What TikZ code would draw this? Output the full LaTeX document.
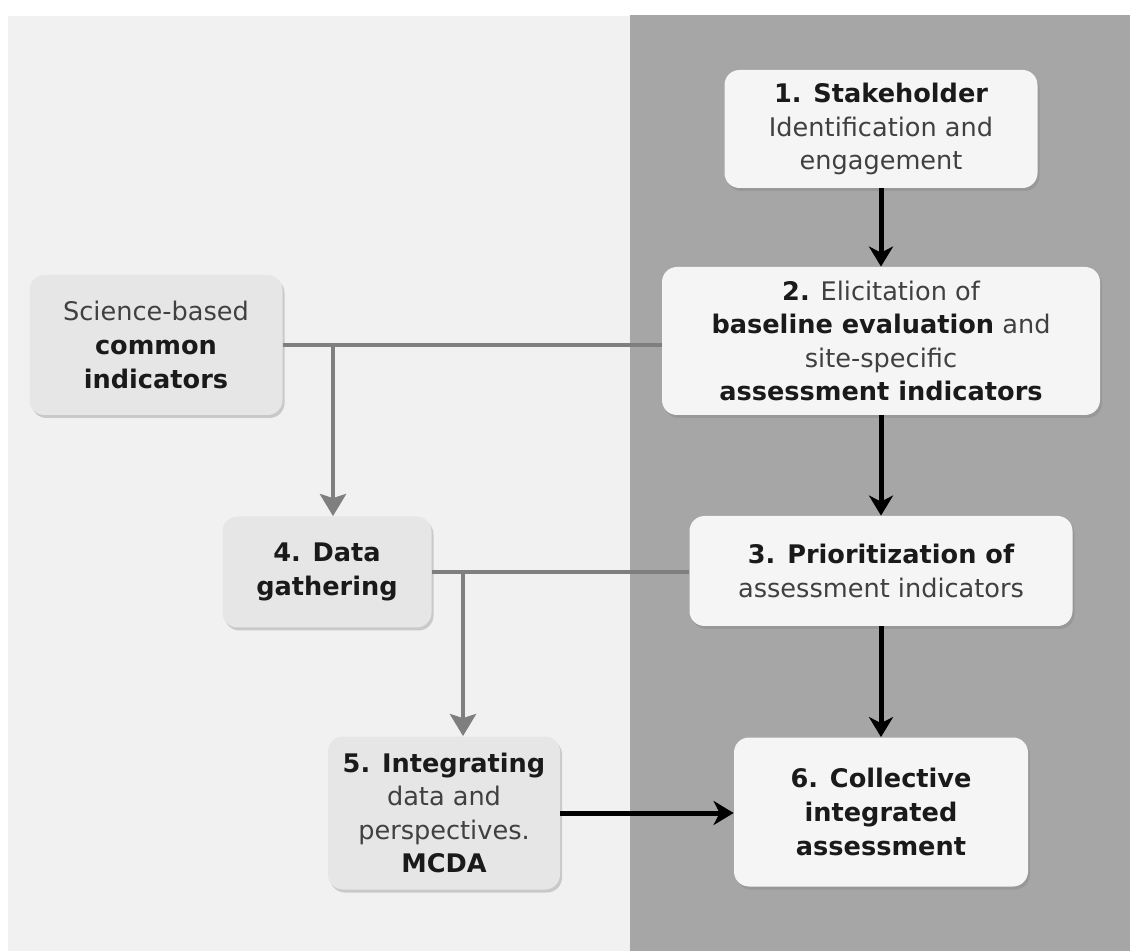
\documentclass[tikz,border=0pt]{standalone}
\usepackage{fontspec}
\setmainfont{DejaVu Sans}
\usetikzlibrary{shadows,arrows.meta}
\definecolor{lightbg}{HTML}{F1F1F1}
\definecolor{darkbg}{HTML}{A6A6A6}
\definecolor{boxw}{HTML}{F5F5F5}
\definecolor{boxg}{HTML}{E6E6E6}
\definecolor{lineg}{HTML}{7F7F7F}
\definecolor{txt}{HTML}{404040}
\definecolor{bold}{HTML}{1A1A1A}
\newcommand\bb[1]{{\bfseries\color{bold}#1}}
\tikzset{
  stepbox/.style={rounded corners=7.5pt, align=center, inner sep=2pt,
    text=txt, font=\fontsize{12.8}{16.8}\selectfont,
    drop shadow={opacity=0.35, shadow xshift=1pt, shadow yshift=-1.5pt}},
  whitebox/.style={stepbox, fill=boxw},
  greybox/.style={stepbox, fill=boxg},
  blk/.style={line width=2.5pt, draw=black, -{Stealth[length=10pt,width=12pt,inset=3pt]}},
  gl/.style={line width=2.2pt, draw=lineg},
  glarrow/.style={gl, -{Stealth[length=11pt,width=13pt,inset=2pt]}}
}
\begin{document}
\begin{tikzpicture}[x=0.5pt,y=-0.5pt]
\useasboundingbox (0,0) rectangle (1130,951);
\fill[white] (0,0) rectangle (1130,951);
\fill[lightbg] (8,16) rectangle (630,951);
\fill[darkbg] (630,15) rectangle (1130,951);

\node[whitebox, minimum width=156.5pt, minimum height=59pt] (b1) at (881,129)
  {\bb{1. Stakeholder}\\Identification and\\engagement};
\node[whitebox, minimum width=219pt, minimum height=74pt] (b2) at (881,341)
  {\bb{2.} Elicitation of\\\bb{baseline evaluation} and\\site-specific\\\bb{assessment indicators}};
\node[whitebox, minimum width=191.5pt, minimum height=55pt] (b3) at (881,571)
  {\bb{3. Prioritization of}\\assessment indicators};
\node[whitebox, minimum width=147pt, minimum height=74.5pt] (b6) at (881,812)
  {\bb{6. Collective}\\\bb{integrated}\\\bb{assessment}};
\node[greybox, minimum width=126.5pt, minimum height=70pt] (sci) at (156,345)
  {Science-based\\\bb{common}\\\bb{indicators}};
\node[greybox, minimum width=104.5pt, minimum height=55.5pt] (b4) at (327,572)
  {\bb{4. Data}\\\bb{gathering}};
\node[greybox, minimum width=116pt, minimum height=76.5pt] (b5) at (444,813)
  {\bb{5. Integrating}\\data and\\perspectives.\\\bb{MCDA}};

\draw[blk] (b1) -- (b2);
\draw[blk] (b2) -- (b3);
\draw[blk] (b3) -- (b6);
\draw[blk] (b5.east) -- (b5.east -| b6.west);

\draw[gl] (sci.east) -- (sci.east -| b2.west);
\coordinate (j1) at (333,345);
\draw[glarrow] (j1) -- (j1 |- b4.north);
\draw[gl] (b4.east) -- (b4.east -| b3.west);
\coordinate (j2) at (463,572);
\draw[glarrow] (j2) -- (j2 |- b5.north);
\end{tikzpicture}
\end{document}
